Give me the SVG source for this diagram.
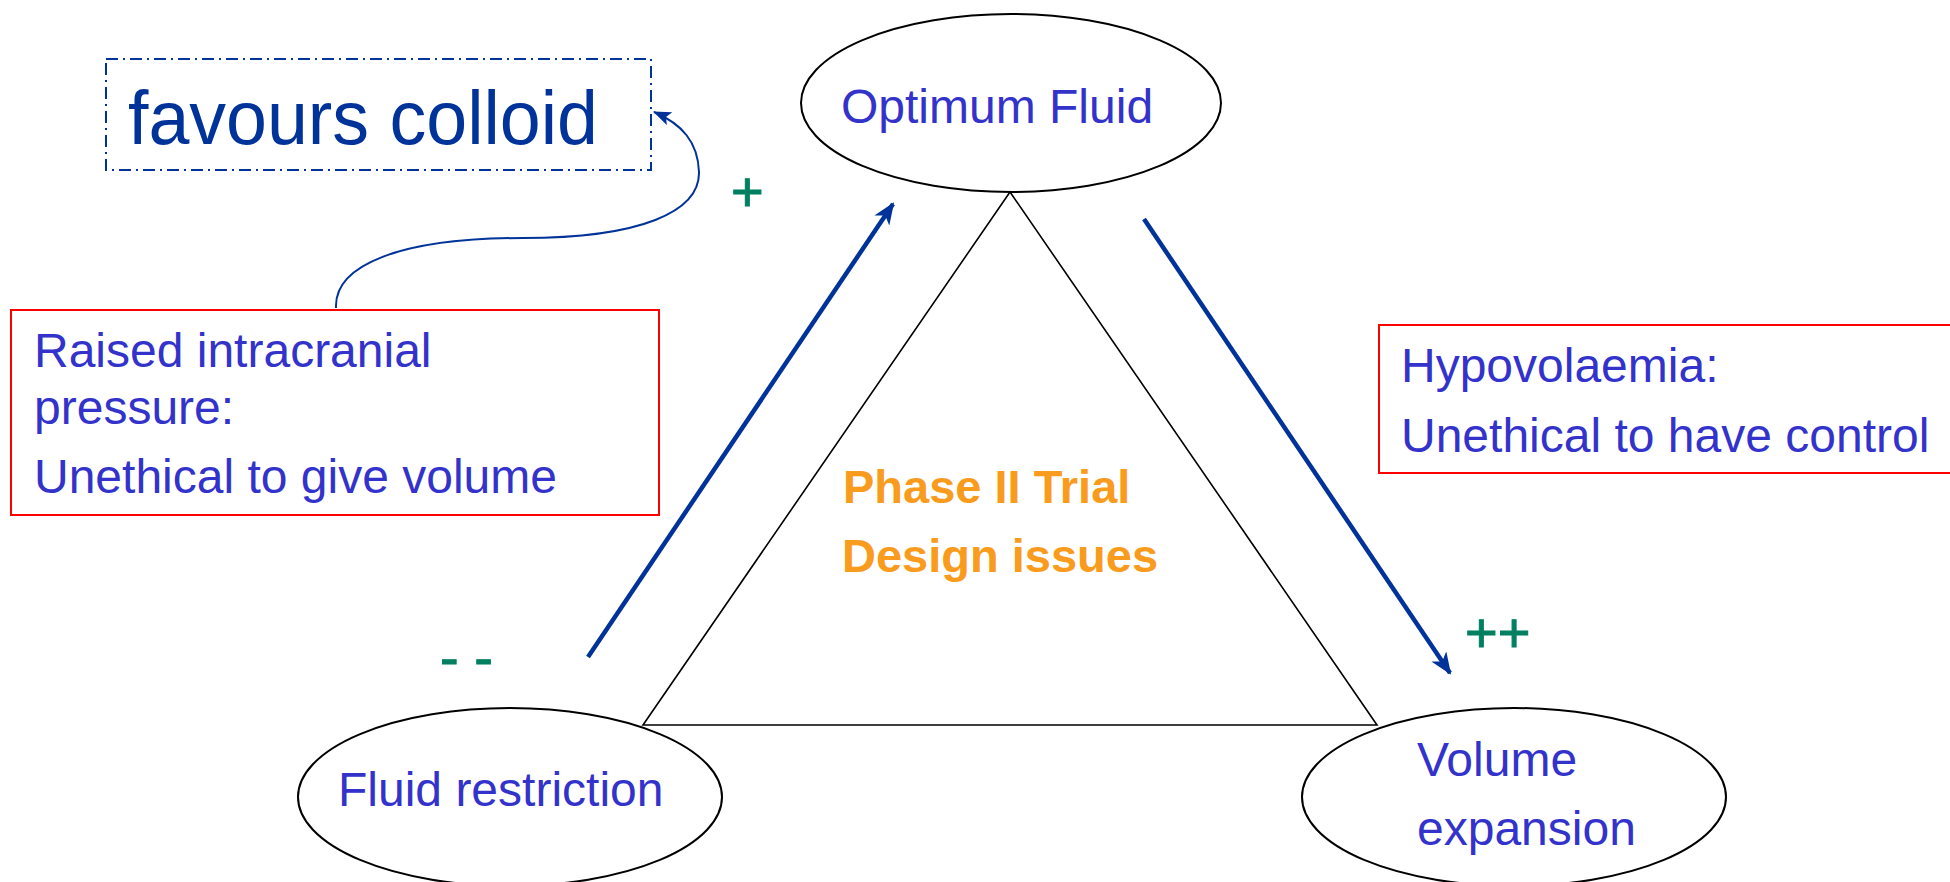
<svg xmlns="http://www.w3.org/2000/svg" width="1950" height="882" viewBox="0 0 1950 882">
<style>
.bg{fill:#FFFFFF}
.ell{fill:none;stroke:#000000;stroke-width:2}
.tri{fill:none;stroke:#000000;stroke-width:1.6}
.rbox{fill:none;stroke:#FF0000;stroke-width:2}
.dbox{fill:none;stroke:#003399;stroke-width:2;stroke-dasharray:12 5 2 5}
.lbl{font-family:"Liberation Sans",Arial,sans-serif;font-size:48px;fill:#3333CC}
.big{font-family:"Liberation Sans",Arial,sans-serif;font-size:76px;fill:#003399}
.ph{font-family:"Liberation Sans",Arial,sans-serif;font-size:47px;font-weight:bold;fill:#F99B1C}
.sg{font-family:"Liberation Sans",Arial,sans-serif;font-size:56px;fill:#008060;stroke:#008060;stroke-width:1}
.thick{fill:none;stroke:#003399;stroke-width:4.5;marker-end:url(#ah)}
.thin{fill:none;stroke:#003399;stroke-width:2;marker-end:url(#ah2)}
</style>
<defs>
<marker id="ah" markerUnits="userSpaceOnUse" viewBox="0 0 22 18" refX="20" refY="9" markerWidth="22" markerHeight="18" orient="auto">
<path d="M0,0 L22,9 L0,18 L6,9 Z" fill="#003399"/>
</marker>
<marker id="ah2" markerUnits="userSpaceOnUse" viewBox="0 0 18 14" refX="17" refY="7" markerWidth="18" markerHeight="14" orient="auto">
<path d="M0,0 L18,7 L0,14 L4,7 Z" fill="#003399"/>
</marker>
</defs>
<rect class="bg" x="0" y="0" width="1950" height="882"/>
<g id="triangle">
<polygon class="tri" points="1010,192 643,725 1377,725"/>
</g>
<g id="connectors">
<line class="thick" x1="588" y1="657" x2="893" y2="204"/>
<line class="thick" x1="1144" y1="219" x2="1450" y2="673"/>
<path class="thin" d="M336,308 C334,265 400,238 523,238 C640,238 700,212 699,172 C698,142 682,124 654,112"/>
</g>
<g id="optimum-fluid">
<ellipse class="ell" cx="1011" cy="103" rx="210" ry="89"/>
<text class="lbl" x="841" y="123">Optimum Fluid</text>
</g>
<g id="fluid-restriction">
<ellipse class="ell" cx="510" cy="797" rx="212" ry="89"/>
<text class="lbl" x="338" y="806">Fluid restriction</text>
</g>
<g id="volume-expansion">
<ellipse class="ell" cx="1514" cy="797" rx="212" ry="89"/>
<text class="lbl" x="1417" y="776">Volume</text>
<text class="lbl" x="1417" y="845">expansion</text>
</g>
<g id="phase-ii">
<text class="ph" x="843" y="503">Phase II Trial</text>
<text class="ph" x="842" y="572">Design issues</text>
</g>
<g id="favours-colloid">
<rect class="dbox" x="106" y="59" width="545" height="111"/>
<text class="big" x="128" y="144" textLength="470" lengthAdjust="spacingAndGlyphs">favours colloid</text>
</g>
<g id="raised-icp">
<rect class="rbox" x="11" y="310" width="648" height="205"/>
<text class="lbl" x="34" y="367">Raised intracranial</text>
<text class="lbl" x="34" y="424">pressure:</text>
<text class="lbl" x="34" y="493">Unethical to give volume</text>
</g>
<g id="hypovolaemia">
<rect class="rbox" x="1379" y="325" width="600" height="148"/>
<text class="lbl" x="1401" y="382">Hypovolaemia:</text>
<text class="lbl" x="1401" y="452">Unethical to have control</text>
</g>
<g id="signs">
<text class="sg" x="731" y="211">+</text>
<text class="sg" x="1465" y="652">++</text>
<text class="sg" x="440" y="677">- -</text>
</g>
</svg>
